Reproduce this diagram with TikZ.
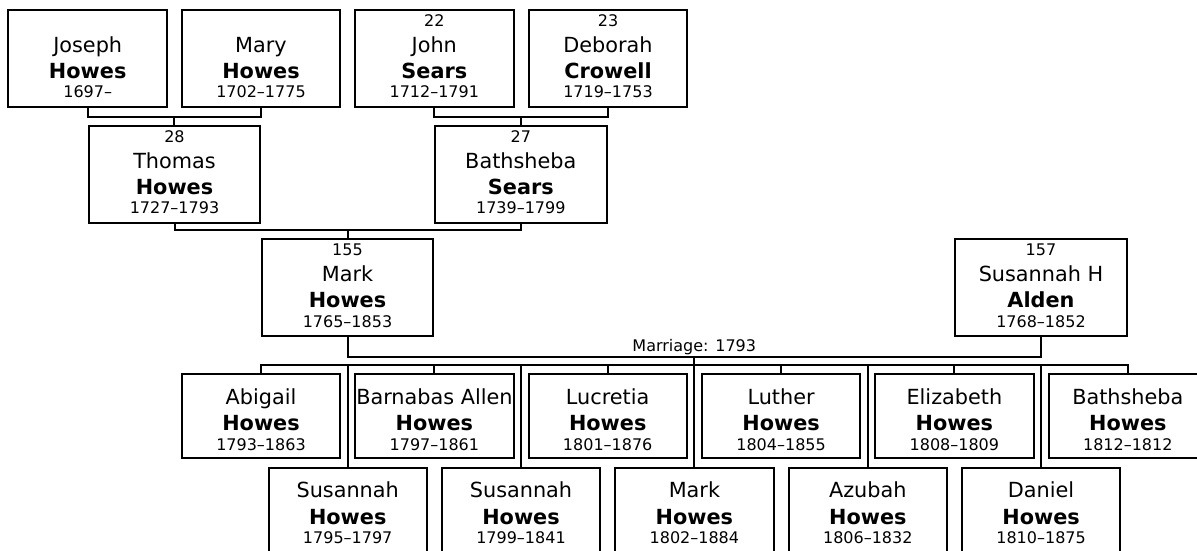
\documentclass[tikz,border=0pt]{standalone}
\usepackage{fontspec}
\setmainfont{DejaVu Sans}
\usetikzlibrary{calc}
\tikzset{
  pbox/.style={draw, line width=2pt, inner sep=0pt, rectangle, fill=white},
  conn/.style={line width=2pt},
  nm/.style={anchor=base, inner sep=0pt, font=\fontsize{20.8}{24}\selectfont},
  sn/.style={anchor=base, inner sep=0pt, font=\fontsize{20.8}{24}\selectfont\bfseries},
  yr/.style={anchor=base, inner sep=0pt, font=\fontsize{16}{18}\selectfont},
}
% id, cx, top, outer width, number, first, last, years
\newcommand\anc[8]{%
  \node[pbox, minimum width=#4pt-2pt, minimum height=97pt] (#1) at (#2,#3+49.5) {};
  \if\relax\detokenize{#5}\relax\else\node[yr] (#1n) at (#2,#3+17) {#5};\fi
  \node[nm] (#1f) at (#2,#3+43) {#6};
  \node[sn] (#1l) at (#2,#3+69) {#7};
  \node[yr] (#1y) at (#2,#3+88.7) {#8};
}
% id, cx, top, first, years
\newcommand\kid[5]{%
  \node[pbox, minimum width=158.3pt, minimum height=84pt] (#1) at (#2,#3+43) {};
  \node[nm] (#1f) at (#2,#3+31) {#4};
  \node[sn] (#1l) at (#2,#3+57.4) {Howes};
  \node[yr] (#1y) at (#2,#3+76.7) {#5};
}
\begin{document}
\begin{tikzpicture}[x=1pt,y=-1pt]
\path[use as bounding box, fill=white] (0,0) rectangle (1197,551);
\clip (0,0) rectangle (1197,551);

% generation 1
\anc{joseph}{87.7}{9.3}{160.7}{}{Joseph}{Howes}{1697–}
\anc{mary}{261}{9.3}{160.7}{}{Mary}{Howes}{1702–1775}
\anc{john}{434.3}{9.3}{160.7}{22}{John}{Sears}{1712–1791}
\anc{deborah}{608}{9.3}{160.7}{23}{Deborah}{Crowell}{1719–1753}
% generation 2
\anc{thomas}{174.5}{125}{173}{28}{Thomas}{Howes}{1727–1793}
\anc{bathS}{520.8}{125}{173.7}{27}{Bathsheba}{Sears}{1739–1799}
% generation 3
\anc{mark}{347.5}{238.3}{173.6}{155}{Mark}{Howes}{1765–1853}
\anc{susA}{1041}{238.3}{174}{157}{Susannah H}{Alden}{1768–1852}

% children
\kid{k0}{261}{373.3}{Abigail}{1793–1863}
\kid{k1}{347.7}{466.7}{Susannah}{1795–1797}
\kid{k2}{434.4}{373.3}{Barnabas Allen}{1797–1861}
\kid{k3}{521.0}{466.7}{Susannah}{1799–1841}
\kid{k4}{607.7}{373.3}{Lucretia}{1801–1876}
\kid{k5}{694.4}{466.7}{Mark}{1802–1884}
\kid{k6}{781.1}{373.3}{Luther}{1804–1855}
\kid{k7}{867.8}{466.7}{Azubah}{1806–1832}
\kid{k8}{954.4}{373.3}{Elizabeth}{1808–1809}
\kid{k9}{1041.1}{466.7}{Daniel}{1810–1875}
\kid{k10}{1127.8}{373.3}{Bathsheba}{1812–1812}

% connectors
\coordinate (jm) at ($(joseph.south)!0.5!(mary.south)+(0,8.3)$);
\draw[conn] (joseph.south) |- (jm) -| (mary.south);
\draw[conn] (jm) -- (jm |- thomas.north);

\coordinate (jd) at ($(john.south)!0.5!(deborah.south)+(0,8.3)$);
\draw[conn] (john.south) |- (jd) -| (deborah.south);
\draw[conn] (jd) -- (jd |- bathS.north);

\coordinate (tb) at ($(thomas.south)!0.5!(bathS.south)+(0,6)$);
\draw[conn] (thomas.south) |- (tb) -| (bathS.south);
\draw[conn] (tb) -- (tb |- mark.north);

\coordinate (ms) at ($(mark.south)!0.5!(susA.south)+(0,19.5)$);
\draw[conn] (mark.south) |- (ms) -| (susA.south);
\node[yr] (mlabel) at ($(ms)+(0,-5)$) {Marriage: 1793};

\coordinate (bar) at ($(ms)+(0,8)$);
\draw[conn] (ms) -- (ms |- k5.north);
\draw[conn] (k0.north) |- (bar) -| (k10.north);
\foreach \i in {1,2,3,4,6,7,8,9}{
  \draw[conn] (k\i.north) -- (k\i.north |- bar);
}
\end{tikzpicture}
\end{document}
